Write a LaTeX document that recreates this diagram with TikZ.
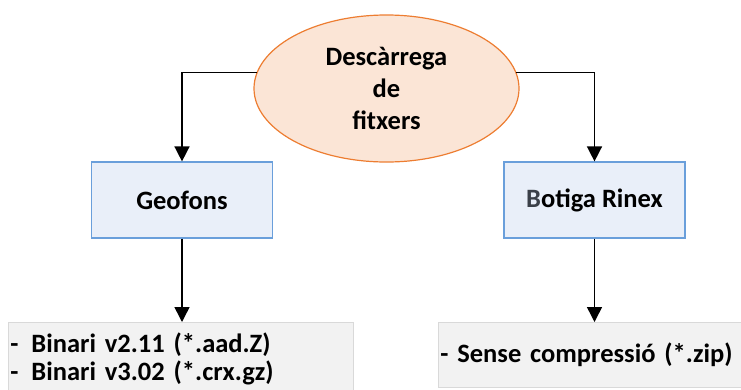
\documentclass[tikz,border=0pt]{standalone}
\usepackage{fontspec}
\setmainfont{Carlito}
\usetikzlibrary{arrows.meta,shapes,positioning}
\definecolor{ellfill}{HTML}{FBE5D6}
\definecolor{elldraw}{HTML}{ED7D31}
\definecolor{boxfill}{HTML}{E9EFF9}
\definecolor{boxdraw}{HTML}{6A9FDB}
\definecolor{listfill}{HTML}{F2F2F2}
\definecolor{listdraw}{HTML}{D9D9D9}
\definecolor{bdark}{HTML}{3B4049}

\begin{document}
\begin{tikzpicture}[x=1pt,y=-1pt,
    font=\bfseries\fontsize{26.5}{32}\selectfont,
    arr/.style={-{Triangle[width=15pt,length=15pt]},line width=1.5pt},
    srcbox/.style={draw=boxdraw,fill=boxfill,line width=1.2pt,minimum width=181pt,minimum height=76pt,inner sep=0pt},
    listbox/.style={draw=listdraw,fill=listfill,line width=0.8pt,inner xsep=2pt,inner ysep=0pt,align=left,anchor=north west}]
    \useasboundingbox (0,0) rectangle (741,389);
    \clip (0,0) rectangle (741,389);
    % top
    \node[ellipse,draw=elldraw,fill=ellfill,line width=1.2pt,minimum width=265pt,minimum height=147pt,inner sep=0pt,align=center] (desc) at (386.5,88.5) {Descàrrega\\de\\fitxers};
    % sources
    \node[srcbox] (geo) at (182,200) {Geofons};
    \node[srcbox] (rin) at (594.5,200) {{\color{bdark}B}otiga Rinex};
    % file types
    \node[listbox,text width=341pt,minimum height=73pt,font=\bfseries\fontsize{26.5}{28}\selectfont] (bl) at (8,322) {-\hspace{13pt}Binari v2.11 (*.aad.Z)\\-\hspace{13pt}Binari v3.02 (*.crx.gz)};
    \node[listbox,text width=318pt,minimum height=65pt] (br) at (438,322) {- Sense compressió (*.zip)};
    \draw[arr] (desc.173) -| (geo);
    \draw[arr] (desc.7) -| (rin);
    \draw[arr] (geo) -- (geo |- bl.north);
    \draw[arr] (rin) -- (rin |- br.north);
\end{tikzpicture}
\end{document}
